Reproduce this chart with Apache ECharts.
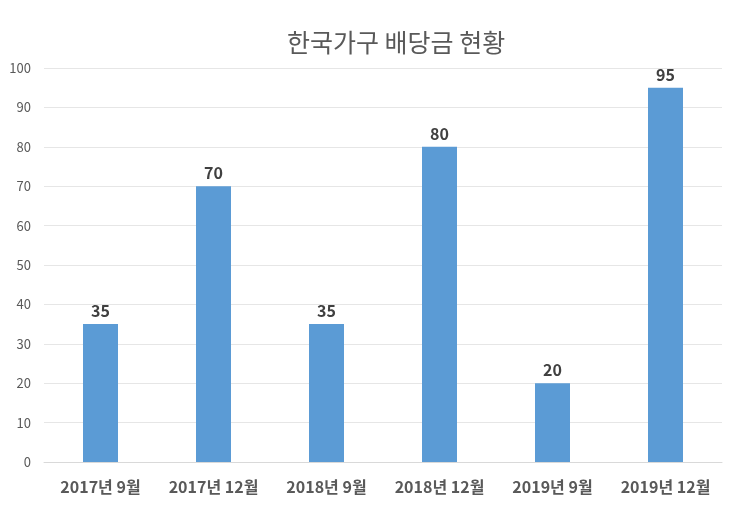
<!DOCTYPE html>
<html>
<head>
<meta charset="utf-8">
<script src="https://cdn.jsdelivr.net/npm/echarts@6/dist/echarts.min.js"></script>
<style>
  html, body { margin: 0; padding: 0; background: #fff; }
  #chart { width: 740px; height: 516px; }
</style>
</head>
<body>
<div id="chart"></div>
<script>
const categories = ["2017년 9월", "2017년 12월", "2018년 9월", "2018년 12월", "2019년 9월", "2019년 12월"];
const dividendValues = [35, 70, 35, 80, 20, 95];

const font = "'Noto Sans CJK KR', 'Noto Sans', sans-serif";
const chart = echarts.init(document.getElementById("chart"));

chart.setOption({
  backgroundColor: "#fff",
  animation: false,
  title: {
    text: "한국가구 배당금 현황",
    left: 282,
    top: 25,
    textStyle: { fontFamily: font, fontSize: 25, fontWeight: "normal", color: "#595959" }
  },
  grid: { left: 44, right: 18, top: 68, bottom: 54 },
  xAxis: {
    type: "category",
    data: categories,
    axisLine: { lineStyle: { color: "#d9d9d9" } },
    axisTick: { show: false },
    axisLabel: { interval: 0, fontFamily: font, fontSize: 16, fontWeight: "bold", color: "#595959", margin: 17 }
  },
  yAxis: {
    type: "value",
    min: 0,
    max: 100,
    interval: 10,
    axisLine: { show: false },
    axisTick: { show: false },
    splitLine: { lineStyle: { color: "#e6e6e6" } },
    axisLabel: { fontFamily: font, fontSize: 13, color: "#595959", margin: 13 }
  },
  series: [
    {
      type: "bar",
      data: dividendValues,
      barWidth: 35,
      itemStyle: { color: "#5b9bd5" },
      label: {
        show: true,
        position: "top",
        distance: 5,
        fontFamily: font,
        fontSize: 16,
        fontWeight: "bold",
        color: "#404040"
      }
    }
  ]
});
</script>
</body>
</html>
